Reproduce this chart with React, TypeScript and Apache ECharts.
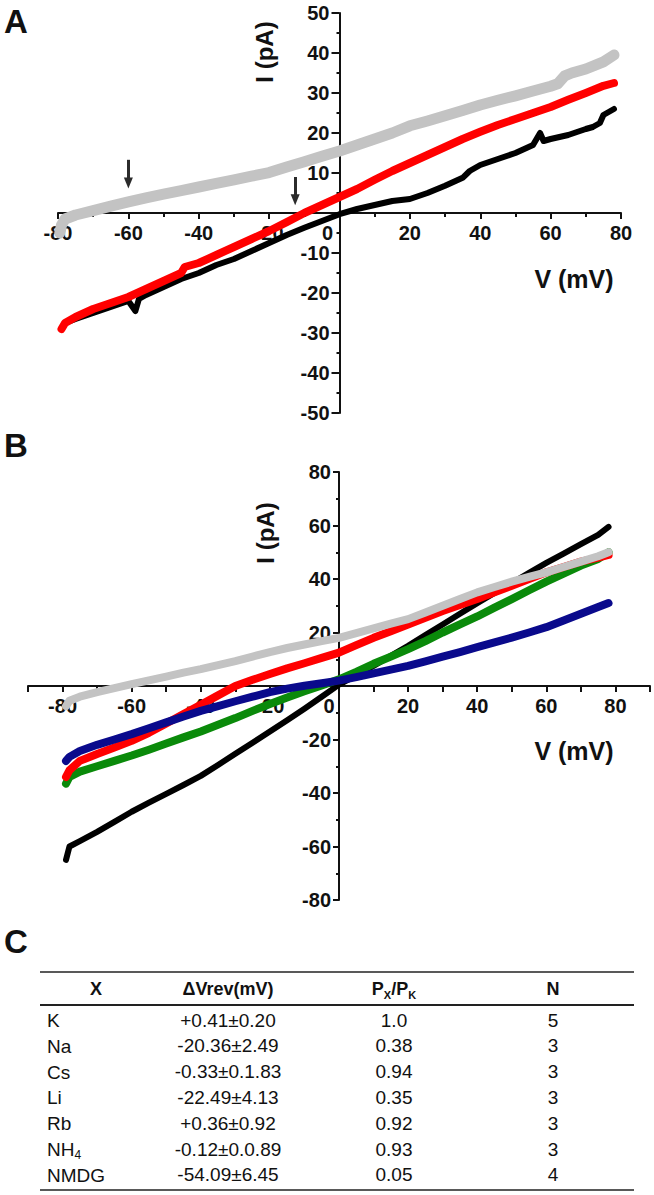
import React, { useEffect, useRef } from 'react';
import * as echarts from 'echarts';

// ---------- Panel A data (V in mV, I in pA) ----------
const vA_gray = [-79.5, -79, -78, -75, -70, -65, -60, -55, -50, -45, -40, -35, -30, -25, -20, -15, -10, -5, 0, 5, 10, 15, 20, 25, 30, 35, 40, 45, 50, 55, 60, 62, 64, 66, 70, 75, 78];
const iA_gray = [-5, -3, -1.5, -0.5, 0.6, 1.7, 2.8, 3.8, 4.7, 5.6, 6.5, 7.4, 8.3, 9.2, 10.1, 11.5, 12.8, 14.2, 15.5, 17, 18.5, 20, 21.8, 23, 24.3, 25.6, 27, 28.2, 29.3, 30.5, 31.7, 32.3, 34.3, 35, 36, 37.8, 39.5];

const vA_red = [-79, -78, -75, -70, -65, -60, -55, -50, -45, -44, -40, -35, -30, -25, -20, -15, -10, -5, 0, 5, 10, 15, 20, 25, 30, 35, 40, 45, 50, 55, 60, 65, 70, 75, 78];
const iA_red = [-29, -27.5, -26, -24, -22.5, -21, -19, -17, -15, -13.5, -12.5, -10.5, -8.5, -6.5, -4.5, -2.3, 0, 2, 4, 6, 8.3, 10.5, 12.5, 14.5, 16.5, 18.5, 20.3, 22, 23.5, 25, 26.5, 28.3, 30, 31.8, 32.5];

const vA_black = [-78, -75, -70, -65, -60, -58, -57, -55, -50, -45, -40, -35, -30, -25, -20, -15, -10, -5, 0, 5, 10, 15, 20, 25, 30, 35, 37, 40, 45, 50, 55, 57, 58, 60, 65, 70, 72, 74, 75, 78];
const iA_black = [-27.5, -26.5, -25, -23.5, -22, -24.5, -21.5, -20.5, -18.5, -16.5, -15, -13, -11.5, -9.5, -7.5, -5.5, -3.7, -2, -0.3, 1, 2, 3, 3.5, 5, 6.8, 8.8, 10.5, 12, 13.5, 15, 17, 20, 18, 18.5, 19.5, 21, 21.5, 22.5, 24.5, 26];

// arrows in panel A (voltage, top of shaft, centre of head)
const arrowV = [-60, -12.6];
const arrowTop = [13.3, 9];
const arrowHead = [7.5, 3.3];

// ---------- Panel B data ----------
const vB = [-79, -78, -75, -70, -65, -60, -55, -50, -45, -40, -35, -30, -25, -20, -15, -10, -5, 0, 5, 10, 15, 20, 25, 30, 35, 40, 45, 50, 55, 60, 65, 70, 75, 78];
const iB_black = [-65, -60, -58, -54.5, -50.8, -47, -43.6, -40.3, -37, -33.6, -29.5, -25.3, -21.2, -17, -12.8, -8.5, -4, 0.5, 4, 7.5, 11.3, 15, 19, 23, 27, 31, 34.8, 38.5, 42.3, 46, 49.5, 53, 56.5, 59.5];
const iB_blue = [-28, -26.5, -24.3, -22, -20, -18, -15.8, -13.6, -11.4, -9.3, -7.5, -5.7, -4, -2.3, -1, 0.1, 1, 2, 3.3, 4.7, 6.1, 7.5, 9.2, 11, 12.7, 14.5, 16.3, 18.1, 20, 22, 24.5, 27, 29.5, 31];
const iB_green = [-36.5, -34, -32, -30, -28, -26, -23.8, -21.5, -19.2, -17, -14.5, -12, -9.3, -6.7, -4.3, -2, 0.2, 2.5, 5.3, 8.3, 11, 13.8, 16.8, 20, 23, 26, 29.3, 32.5, 35.8, 39, 42, 45, 47.5, 50];
const iB_red = [-34, -31.5, -28, -25.4, -23, -20.5, -17.5, -14, -10.5, -7, -3.5, 0, 2.3, 4.5, 6.6, 8.5, 10.5, 12.5, 15.3, 18, 20.5, 23, 25.5, 28, 30.3, 32.5, 35, 37.5, 40, 42.5, 44.5, 46.5, 48, 49];
const iB_gray = [-7.5, -5.5, -4, -2.3, -0.8, 0.7, 2.1, 3.5, 5, 6.3, 7.8, 9.3, 11, 12.7, 14.2, 15.5, 16.8, 18, 19.8, 21.5, 23.3, 25, 27.5, 30, 32.5, 35, 37, 39, 40.8, 42.5, 44.5, 46.5, 48.5, 50];

// ---------- Panel C table ----------
const tableHeader = ['X', 'ΔVrev(mV)', 'PX/PK', 'N'];
const ions = ['K', 'Na', 'Cs', 'Li', 'Rb', 'NH4', 'NMDG'];
const dVrev = ['+0.41±0.20', '-20.36±2.49', '-0.33±0.1.83', '-22.49±4.13', '+0.36±0.92', '-0.12±0.0.89', '-54.09±6.45'];
const ratio = ['1.0', '0.38', '0.94', '0.35', '0.92', '0.93', '0.05'];
const nCells = ['5', '3', '3', '3', '3', '3', '4'];

const FONT = "'Liberation Sans', Arial, sans-serif";
const INK = '#111';
const TICK_FS = 20;

const zip = (v: number[], i: number[]) => v.map((x, k) => [x, i[k]]);

function lineSeries(name: string, data: number[][], color: string, width: number, idx: number, extra: any = {}) {
  return {
    name,
    type: 'line',
    xAxisIndex: idx,
    yAxisIndex: idx,
    data,
    showSymbol: false,
    symbol: 'none',
    smooth: false,
    lineStyle: { color, width, cap: 'round', join: 'round' },
    ...extra,
  };
}

function xAxisCfg(idx: number, min: number, max: number, interval: number, minor: boolean, shift: number, offset: number) {
  return {
    gridIndex: idx,
    type: 'value',
    position: 'bottom',
    offset,
    min,
    max,
    interval,
    axisLine: { onZero: false, lineStyle: { color: INK, width: 2 } },
    axisTick: { show: true, length: 6, lineStyle: { color: INK, width: 2 } },
    minorTick: { show: minor, splitNumber: 2, length: 4, lineStyle: { color: INK, width: 2 } },
    splitLine: { show: false },
    minorSplitLine: { show: false },
    axisLabel: {
      show: true,
      margin: 10,
      color: INK,
      fontFamily: FONT,
      fontWeight: 'bold',
      fontSize: TICK_FS,
      showMinLabel: true,
      showMaxLabel: true,
      formatter: (v: number) => {
        if (v % 20 !== 0) return '';
        if (v === 0) return '{z|0}';
        return String(v);
      },
      rich: {
        z: { fontFamily: FONT, fontWeight: 'bold', fontSize: TICK_FS, color: INK, padding: [0, shift, 0, 0] },
      },
    },
  };
}

function yAxisCfg(idx: number, min: number, max: number, interval: number, margin: number, tickLen: number, offset: number) {
  return {
    gridIndex: idx,
    type: 'value',
    position: 'left',
    offset,
    min,
    max,
    interval,
    axisLine: { onZero: false, lineStyle: { color: INK, width: 2 } },
    axisTick: { show: true, length: tickLen, lineStyle: { color: INK, width: 2 } },
    minorTick: { show: true, splitNumber: 2, length: 3, lineStyle: { color: INK, width: 2 } },
    splitLine: { show: false },
    minorSplitLine: { show: false },
    axisLabel: {
      show: true,
      margin,
      color: INK,
      fontFamily: FONT,
      fontWeight: 'bold',
      fontSize: TICK_FS,
      formatter: (v: number) => (v === 0 ? '' : String(v)),
    },
  };
}

function buildTable() {
  const els: any[] = [];
  const colX = [96, 228, 394, 553];
  const lineL = 40;
  const lineR = 634;
  const headerY = 988;
  const rowY0 = 1020;
  const rowStep = 25.8;
  els.push({ type: 'line', shape: { x1: lineL, y1: 972, x2: lineR, y2: 972 }, style: { stroke: '#222', lineWidth: 1.6 } });
  els.push({ type: 'line', shape: { x1: lineL, y1: 1005, x2: lineR, y2: 1005 }, style: { stroke: '#222', lineWidth: 2 } });
  els.push({ type: 'line', shape: { x1: lineL, y1: 1190, x2: lineR, y2: 1190 }, style: { stroke: '#222', lineWidth: 1.6 } });
  const hdrRich = {
    b: { fontFamily: FONT, fontWeight: 'bold', fontSize: 18, lineHeight: 20, fill: INK, verticalAlign: 'bottom' },
    s: { fontFamily: FONT, fontWeight: 'bold', fontSize: 11, lineHeight: 14, fill: INK, verticalAlign: 'bottom', padding: [0, 0, -2, 0] },
  };
  tableHeader.forEach((h, c) => {
    let txt = '{b|' + h + '}';
    if (h === 'PX/PK') txt = '{b|P}{s|X}{b|/P}{s|K}';
    els.push({
      type: 'text',
      x: colX[c],
      y: headerY,
      style: {
        text: txt,
        rich: hdrRich,
        fill: INK,
        font: `bold 18px ${FONT}`,
        align: 'center',
        verticalAlign: 'middle',
        textAlign: 'center',
        textVerticalAlign: 'middle',
      },
    });
  });
  const rowRich = {
    r: { fontFamily: FONT, fontSize: 19, lineHeight: 20, fill: INK, verticalAlign: 'bottom' },
    s: { fontFamily: FONT, fontSize: 12, lineHeight: 14, fill: INK, verticalAlign: 'bottom', padding: [0, 0, -2, 0] },
  };
  ions.forEach((ion, r) => {
    const y = rowY0 + r * rowStep;
    const ionTxt = ion === 'NH4' ? '{r|NH}{s|4}' : '{r|' + ion + '}';
    els.push({
      type: 'text', x: 47, y,
      style: { text: ionTxt, rich: rowRich, fill: INK, font: `19px ${FONT}`, align: 'left', verticalAlign: 'middle', textAlign: 'left', textVerticalAlign: 'middle' },
    });
    [dVrev[r], ratio[r], nCells[r]].forEach((val, k) => {
      els.push({
        type: 'text', x: colX[k + 1], y,
        style: { text: val, fill: INK, font: `19px ${FONT}`, align: 'center', verticalAlign: 'middle', textAlign: 'center', textVerticalAlign: 'middle' },
      });
    });
  });
  return els;
}

function textEl(text: string, x: number, y: number, size: number, rotation = 0, align = 'center') {
  return {
    type: 'text',
    x,
    y,
    rotation,
    style: {
      text,
      fill: INK,
      font: `bold ${size}px ${FONT}`,
      align,
      verticalAlign: 'middle',
      textAlign: align,
      textVerticalAlign: 'middle',
    },
  };
}

export default function App() {
  const ref = useRef<HTMLDivElement>(null);
  useEffect(() => {
    if (!ref.current) return;
    const chart = echarts.init(ref.current, null, { renderer: 'svg' });
    const arrowData = arrowV.map((v, k) => [{ coord: [v, arrowTop[k]] }, { coord: [v, arrowHead[k]] }]);
    const gA = { left: 58, top: 13, width: 563, height: 400 };
    const gB = { left: 28, top: 472, width: 622, height: 428 };
    const option: any = {
      animation: false,
      backgroundColor: '#ffffff',
      grid: [
        { ...gA, containLabel: false },
        { ...gB, containLabel: false },
      ],
      xAxis: [
        xAxisCfg(0, -80, 80, 20, true, 24, -gA.height / 2),
        xAxisCfg(1, -90, 90, 10, false, 20, -gB.height / 2),
      ],
      yAxis: [
        yAxisCfg(0, -50, 50, 10, 10, 8, -gA.width / 2),
        yAxisCfg(1, -80, 80, 20, 8, 6, -gB.width / 2),
      ],
      series: [
        lineSeries('A gray', zip(vA_gray, iA_gray), '#c3c3c3', 11, 0),
        lineSeries('A black', zip(vA_black, iA_black), '#000000', 6, 0, {
          markLine: {
            silent: true,
            symbol: ['none', 'triangle'],
            symbolSize: [9, 11],
            lineStyle: { color: '#2b2b2b', width: 3, type: 'solid' },
            label: { show: false },
            data: arrowData,
          },
        }),
        lineSeries('A red', zip(vA_red, iA_red), '#ff0000', 8, 0),
        lineSeries('B black', zip(vB, iB_black), '#000000', 6, 1),
        lineSeries('B green', zip(vB, iB_green), '#0a8a0a', 8, 1),
        lineSeries('B red', zip(vB, iB_red), '#ff0000', 8, 1),
        lineSeries('B blue', zip(vB, iB_blue), '#0a0a8c', 8, 1),
        lineSeries('B gray', zip(vB, iB_gray), '#c3c3c3', 8, 1),
      ],
      graphic: [
        textEl('A', 16, 21, 33),
        textEl('B', 16, 445, 33),
        textEl('C', 16, 941, 33),
        textEl('I (pA)', 264, 52, 24, Math.PI / 2),
        textEl('V (mV)', 574, 279, 25),
        textEl('I (pA)', 265, 533, 24, Math.PI / 2),
        textEl('V (mV)', 574, 751, 25),
        ...buildTable(),
      ],
    };
    chart.setOption(option);
    return () => chart.dispose();
  }, []);
  return <div ref={ref} style={{ position: 'absolute', left: 0, top: 0, width: 654, height: 1195 }} />;
}
